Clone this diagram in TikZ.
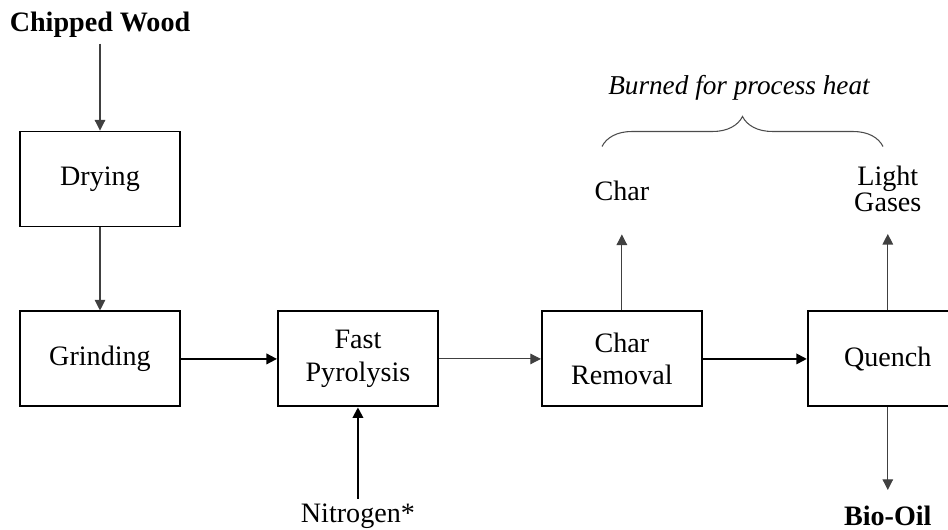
\documentclass[tikz,border=0pt]{standalone}
\usepackage{fontspec}
\setmainfont{Liberation Serif}
\usetikzlibrary{arrows.meta, positioning, decorations.pathreplacing}

\begin{document}
\begin{tikzpicture}[
    node distance=1.66cm and 2cm,
    % === STYLES ===
    unit/.style={
        rectangle,
        draw=black,
        line width=1.1pt,
        minimum width=3.2cm,
        minimum height=1.9cm,
        font=\fontsize{16}{18.5}\selectfont,
        align=center
    },
    stream/.style={
        font=\fontsize{16}{18}\selectfont,
        text height=11pt,
        text depth=3.5pt,
        inner sep=3pt
    },
    outlet/.style={
        font=\fontsize{16}{14.5}\selectfont,
        inner sep=3pt,
        align=center
    },
    product/.style={
        stream,
        font=\fontsize{16}{18}\selectfont\bfseries
    },
    flow/.style={
        -{Triangle[length=6pt,width=6pt]},
        line width=0.6pt,
        color=black!75
    },
    mainflow/.style={
        -{Triangle[length=6pt,width=6pt]},
        line width=1.1pt,
        color=black
    },
    brace/.style={
        decorate,
        decoration={brace, amplitude=0.6cm},
        line width=0.6pt,
        color=black!70
    },
    note/.style={
        font=\fontsize{15.5}{18}\selectfont\itshape,
        inner sep=3pt
    }
]
\useasboundingbox (0,0) rectangle (18.96,-10.6);

% === PROCESS UNITS ===
\node[unit] (drying) at (2.0,-3.58) {Drying};
\node[unit, below=of drying] (grinding) {Grinding};
\node[unit, right=1.92cm of grinding] (pyrolysis) {Fast\\Pyrolysis};
\node[unit, right=2.04cm of pyrolysis] (charrem) {Char\\Removal};
\node[unit, right=2.08cm of charrem] (quench) {Quench};

% === FEEDS AND PRODUCTS ===
\node[product, above=1.74cm of drying] (wood) {Chipped Wood};
\node[stream, text depth=2.5pt, inner sep=2pt, below=1.83cm of pyrolysis] (nitrogen) {Nitrogen*};
\node[stream, above=1.96cm of charrem] (char) {Char};
\node[outlet, above=1.87cm of quench] (gases) {Light\\Gases};
\node[product, text depth=0pt, inner sep=2pt, below=1.89cm of quench] (biooil) {Bio-Oil};

% === CONNECTIONS ===
\draw[flow] (wood) -- (drying);
\draw[flow] (drying) -- (grinding);
\draw[mainflow] (grinding) -- (pyrolysis);
\draw[flow] (pyrolysis) -- (charrem);
\draw[mainflow] (charrem) -- (quench);
\draw[mainflow] (nitrogen) -- (pyrolysis);
\draw[flow, shorten >=0.44cm] (charrem) -- (char);
\draw[flow, shorten >=0.34cm] (quench) -- (gases);
\draw[flow, shorten >=0.24cm] (quench) -- (biooil);

% === BRACE ===
\coordinate (bracel) at (12.04,-2.93);
\coordinate (bracer) at (17.66,-2.93);
\draw[brace] (bracel) -- (bracer);
\node[note] (heatnote) at (14.78,-1.76) {Burned for process heat};

\end{tikzpicture}
\end{document}
